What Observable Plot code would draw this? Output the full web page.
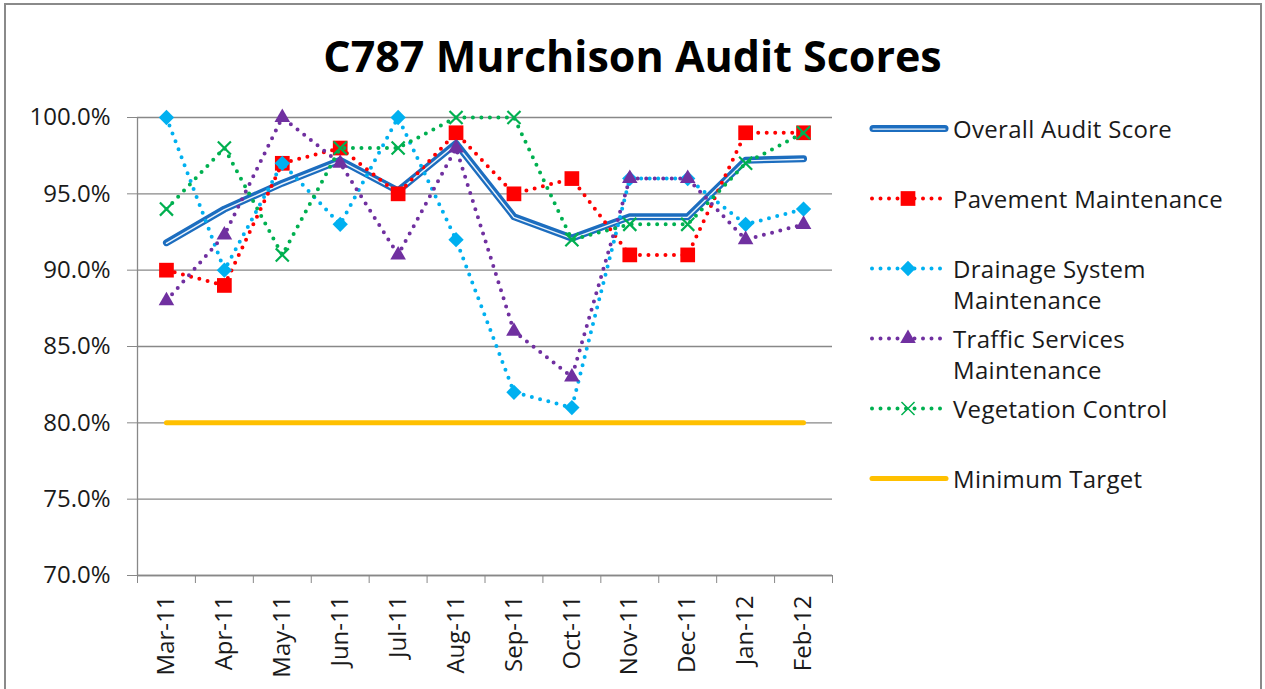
<!DOCTYPE html>
<html><head><meta charset="utf-8">
<script src="https://cdn.jsdelivr.net/npm/d3@7"></script>
<script src="https://cdn.jsdelivr.net/npm/@observablehq/plot@0.6"></script>
<style>
body{margin:0;background:#fff;font-family:"Open Sans",sans-serif;}
#page{position:relative;width:1265px;height:689px;overflow:hidden;background:#fff;}
#frame{position:absolute;left:4px;top:3px;width:1254px;height:720px;border:2px solid #8a8a8a;}
#title{position:absolute;left:0;top:34px;width:1265px;text-align:center;font-weight:700;font-size:43px;line-height:44px;color:#000;}
#chart{position:absolute;left:0;top:90px;}
.item{position:absolute;left:868px;display:flex;align-items:flex-start;}
.item svg{flex:none;}
.item div{width:300px;font-size:24px;line-height:31px;color:#1a1a1a;margin-left:3px;letter-spacing:0.3px;}
</style></head>
<body><div id="page"><div id="frame"></div><div id="title">C787 Murchison Audit Scores</div><div id="chart"></div><div id="legend"></div></div>
<script>
const months = ["Mar-11","Apr-11","May-11","Jun-11","Jul-11","Aug-11","Sep-11","Oct-11","Nov-11","Dec-11","Jan-12","Feb-12"];
const overall    = [91.8, 94.0, 95.7, 97.2, 95.2, 98.3, 93.5, 92.1, 93.5, 93.5, 97.2, 97.3];
const pavement   = [90, 89, 97, 98, 95, 99, 95, 96, 91, 91, 99, 99];
const drainage   = [100, 90, 97, 93, 100, 92, 82, 81, 96, 96, 93, 94];
const traffic    = [88, 92.3, 100, 97, 91, 98, 86, 83, 96, 96, 92, 93];
const vegetation = [94, 98, 91, 98, 98, 100, 100, 92, 93, 93, 97, 99];
const target     = [80, 80, 80, 80, 80, 80, 80, 80, 80, 80, 80, 80];
const yTicks = [70, 75, 80, 85, 90, 95, 100];
const seriesNames = ["Overall Audit Score","Pavement Maintenance","Drainage System Maintenance","Traffic Services Maintenance","Vegetation Control","Minimum Target"];

const BLUE="#1c6dbf", RED="#ff0000", CYAN="#00b0f0", PURPLE="#7030a0", GREEN="#00b050", GOLD="#ffc000", GRID="#888888";

const rows = vals => vals.map((v,i)=>({i: i+0.5, v, m: months[i]}));
const dotted = {strokeWidth:4, strokeDasharray:"0 8.5", strokeLinecap:"round", strokeLinejoin:"round"};

const dottedSeries = [
  {vals: pavement, color: RED, symbol: "square", r: 8.3},
  {vals: drainage, color: CYAN, symbol: "diamond2", r: 6.9},
  {vals: traffic, color: PURPLE, symbol: "triangle", r: 5.8},
  {vals: vegetation, color: GREEN, symbol: "times", r: 6}
];

const marks = [
  Plot.gridY(yTicks, {stroke: GRID, strokeOpacity: 1, strokeWidth: 1.3}),
  Plot.ruleX([0], {stroke: GRID, strokeWidth: 1.3}),
  Plot.ruleY([70], {stroke: GRID, strokeWidth: 1.3}),
  Plot.axisY(yTicks, {tickSize: 10, tickPadding: 17, stroke: GRID, fill: "#1a1a1a", fontSize: 24, tickFormat: d => d.toFixed(1) + "%", label: null}),
  Plot.axisX(d3.range(0, 13), {tickSize: 8, stroke: GRID, tickFormat: () => "", label: null}),
  Plot.axisX(d3.range(12).map(i => i + 0.5), {tickSize: 0, tickPadding: 20, tickRotate: -90, fill: "#1a1a1a", fontSize: 24, tickFormat: d => months[Math.floor(d)], label: null}),
  Plot.line(rows(overall), {x: "i", y: "v", stroke: BLUE, strokeWidth: 7, strokeLinecap: "round", strokeLinejoin: "round"}),
  Plot.line(rows(overall), {x: "i", y: "v", stroke: "#eaf3fb", strokeWidth: 1.4, dy: 0.6, strokeLinecap: "round", strokeLinejoin: "round"})
];
for (const s of dottedSeries) {
  marks.push(Plot.line(rows(s.vals), {x: "i", y: "v", stroke: s.color, ...dotted}));
  if (s.symbol === "times") marks.push(Plot.dot(rows(s.vals), {x: "i", y: "v", symbol: "times", r: s.r, stroke: s.color, strokeWidth: 2.2}));
  else marks.push(Plot.dot(rows(s.vals), {x: "i", y: "v", symbol: s.symbol, r: s.r, fill: s.color, stroke: "none"}));
}
marks.push(Plot.line(rows(target), {x: "i", y: "v", stroke: GOLD, strokeWidth: 5, strokeLinecap: "round"}));

const chart = Plot.plot({
  width: 860, height: 599,
  marginLeft: 137, marginRight: 28, marginTop: 27, marginBottom: 114,
  x: {type: "linear", domain: [0, 12], axis: null},
  y: {type: "linear", domain: [70, 100], axis: null},
  style: {fontFamily: "Open Sans, sans-serif", fontSize: "24px", color: "#1a1a1a", background: "transparent", overflow: "visible"},
  marks
});
document.getElementById("chart").appendChild(chart);

// legend
const legendStyles = [
  {color: BLUE, kind: "double"},
  {color: RED, kind: "dot", symbol: d3.symbolSquare, r: 8.3},
  {color: CYAN, kind: "dot", symbol: d3.symbolDiamond2, r: 6.9},
  {color: PURPLE, kind: "dot", symbol: d3.symbolTriangle, r: 5.8},
  {color: GREEN, kind: "dot", symbol: d3.symbolTimes, r: 6, stroked: true},
  {color: GOLD, kind: "solid"}
];
const legend = document.getElementById("legend");
seriesNames.forEach((name, k) => {
  const st = legendStyles[k];
  const item = document.createElement("div");
  item.className = "item";
  item.style.top = (128 + 70 * k - 15.5) + "px";
  const svg = d3.create("svg").attr("width", 82).attr("height", 31);
  const y = 15.5;
  if (st.kind === "double") {
    svg.append("line").attr("x1", 5).attr("x2", 77).attr("y1", y).attr("y2", y).attr("stroke", st.color).attr("stroke-width", 7).attr("stroke-linecap", "round");
    svg.append("line").attr("x1", 5).attr("x2", 77).attr("y1", y + 0.6).attr("y2", y + 0.6).attr("stroke", "#eaf3fb").attr("stroke-width", 1.4).attr("stroke-linecap", "round");
  } else if (st.kind === "solid") {
    svg.append("line").attr("x1", 4).attr("x2", 78).attr("y1", y).attr("y2", y).attr("stroke", st.color).attr("stroke-width", 5).attr("stroke-linecap", "round");
  } else {
    svg.append("line").attr("x1", 4).attr("x2", 80).attr("y1", y).attr("y2", y).attr("stroke", st.color).attr("stroke-width", 4).attr("stroke-dasharray", "0 8.5").attr("stroke-linecap", "round");
    const p = svg.append("path").attr("transform", `translate(40,${y})`).attr("d", d3.symbol(st.symbol, Math.PI * st.r * st.r)());
    if (st.stroked) p.attr("fill", "none").attr("stroke", st.color).attr("stroke-width", 1.5);
    else p.attr("fill", st.color);
  }
  item.appendChild(svg.node());
  const t = document.createElement("div");
  t.textContent = name;
  item.appendChild(t);
  legend.appendChild(item);
});
</script></body></html>
